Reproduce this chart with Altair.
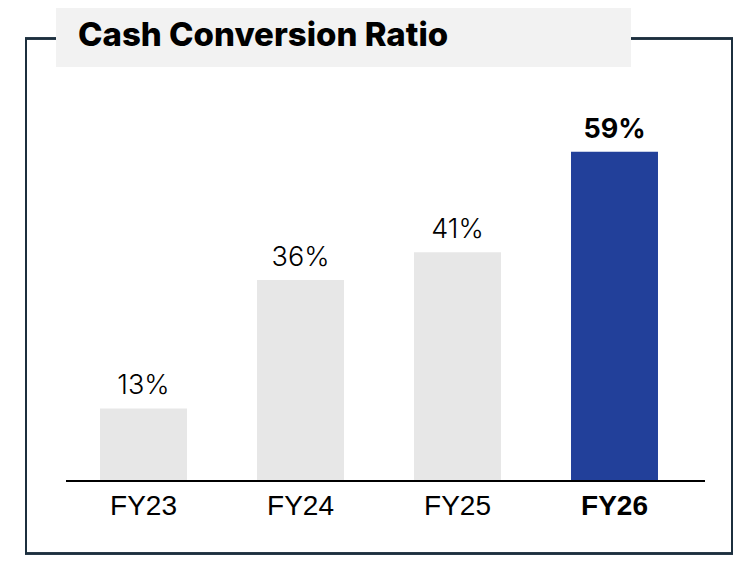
import altair as alt
import pandas as pd

years = ["FY23", "FY24", "FY25", "FY26"]
values = [13, 36, 41, 59]
labels = ["13%", "36%", "41%", "59%"]
highlight = [False, False, False, True]

df = pd.DataFrame({"year": years, "value": values, "label": labels, "hl": highlight})

NAVY = "#1c2f3e"
BLUE = "#22409a"
GRAY = "#e7e7e7"

xs = alt.X("year:N", sort=years, axis=None,
           scale=alt.Scale(range=[57, 685], paddingInner=0.446, paddingOuter=0.223))
ys = alt.Y("value:Q", axis=None, scale=alt.Scale(domain=[0, 60], range=[473, 138.2]))

base = alt.Chart(df)

border = base.mark_rect(fillOpacity=0, stroke=NAVY, strokeWidth=2).encode(
    x=alt.value(18), x2=alt.value(724), y=alt.value(30.5), y2=alt.value(545.5)
)
title_box = base.mark_rect(fill="#f2f2f2").encode(
    x=alt.value(48), x2=alt.value(623), y=alt.value(0), y2=alt.value(59)
)
title = alt.Chart(pd.DataFrame({"t": ["Cash Conversion Ratio"]})).mark_text(
    font="Inter", fontWeight=800, fontSize=33, align="left", baseline="alphabetic",
    color="#000000"
).encode(x=alt.value(70), y=alt.value(38), text="t:N")

bars = base.mark_bar().encode(
    x=xs, y=ys, y2=alt.datum(0),
    color=alt.condition("datum.hl", alt.value(BLUE), alt.value(GRAY)),
)
baseline = base.mark_rule(color="#000000", strokeWidth=2).encode(
    x=alt.value(58), x2=alt.value(697), y=alt.value(473)
)

def vlab(weight, cond):
    return base.transform_filter(cond).mark_text(
        font="Inter", fontSize=27, baseline="alphabetic", dy=-14,
        color="#000000", fontWeight=weight).encode(x=xs, y=ys, text="label:N")

def xlab(weight, cond):
    return base.transform_filter(cond).mark_text(
        font="Liberation Sans", fontSize=28, baseline="alphabetic",
        color="#000000", fontWeight=weight).encode(x=xs, y=alt.value(507), text="year:N")

layers = [border, title_box, title, bars, baseline,
          vlab(300, "!datum.hl"), vlab("bold", "datum.hl"),
          xlab("normal", "!datum.hl"), xlab("bold", "datum.hl")]

chart = alt.layer(*layers).properties(
    width=725, height=547,
    autosize=alt.AutoSizeParams(type="none"),
    padding=0,
).configure_view(stroke=None)

chart.save("out.html", embed_options={"renderer": "svg", "actions": False})
